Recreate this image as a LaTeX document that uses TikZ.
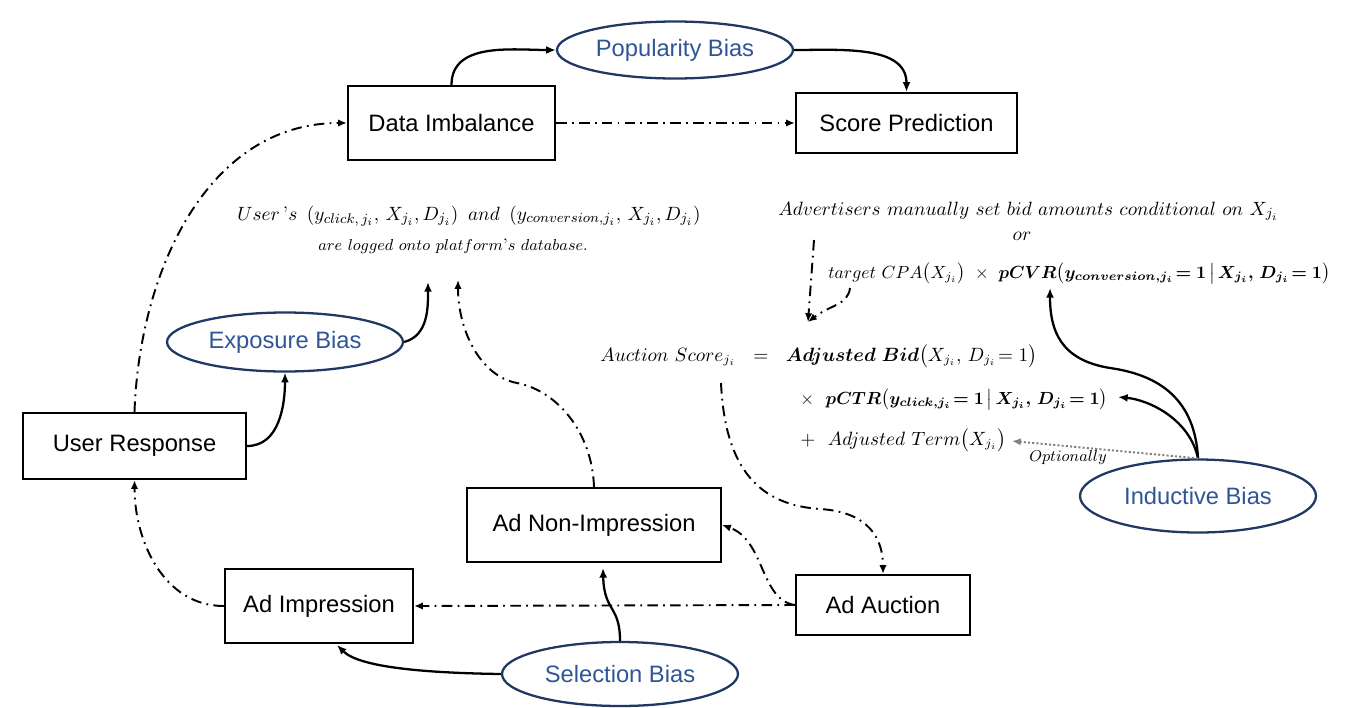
\documentclass[tikz,border=0pt]{standalone}
\usepackage{amsmath}
\usepackage{bm}
\usepackage{fontspec}
\setsansfont{Liberation Sans}
\usetikzlibrary{arrows.meta,shapes.geometric}
\definecolor{biasline}{RGB}{31,56,100}
\definecolor{biastext}{RGB}{47,85,151}
\definecolor{optgray}{RGB}{128,128,128}
\newcommand{\mtxt}{\fontsize{11.2}{13}\selectfont}
\newcommand{\btxt}{\fontsize{10.5}{12}\selectfont}
\newcommand{\ttxt}{\fontsize{10.7}{12}\selectfont}
\newcommand{\ctxt}{\fontsize{10}{12}\selectfont}
\newcommand{\stxt}{\fontsize{9.5}{11}\selectfont}
\begin{document}
\begin{tikzpicture}[x=0.02cm,y=-0.02cm,
  box/.style={draw, line width=1.3pt, inner sep=0pt, font=\sffamily\fontsize{13.5}{16}\selectfont},
  bias/.style={ellipse, draw=biasline, line width=1.3pt, text=biastext, inner sep=0pt, minimum width=4.72cm, font=\sffamily\fontsize{13.5}{16}\selectfont},
  solidarrow/.style={line width=1.3pt, -{Latex[length=5.5pt,width=4.5pt]}},
  dasharrow/.style={line width=1.1pt, dash pattern=on 6pt off 3pt on 1pt off 3pt, -{Latex[length=5pt,width=4.2pt]}},
  dotarrow/.style={line width=1.1pt, optgray, dash pattern=on 1.2pt off 1.2pt, -{Latex[length=5pt,width=4.2pt]}},
  mathlabel/.style={inner sep=0pt, font=\mtxt},
  boldlabel/.style={inner sep=0pt, font=\btxt},
]
\useasboundingbox (0,0) rectangle (1352,707);

% boxes
\node[box, minimum width=4.14cm, minimum height=1.48cm] (di) at (451.5,123) {Data Imbalance};
\node[box, minimum width=4.42cm, minimum height=1.2cm] (sp) at (906.5,123) {Score Prediction};
\node[box, minimum width=4.46cm, minimum height=1.32cm] (ur) at (134.5,446) {User Response};
\node[box, minimum width=5.08cm, minimum height=1.48cm] (ani) at (594,525) {Ad Non-Impression};
\node[box, minimum width=3.76cm, minimum height=1.48cm] (ai) at (319,606) {Ad Impression};
\node[box, minimum width=3.48cm, minimum height=1.2cm] (aa) at (883,605) {Ad Auction};

% bias ellipses
\node[bias, minimum height=1.14cm] (pb) at (675,50) {Popularity Bias};
\node[bias, minimum height=1.18cm] (eb) at (285,342) {Exposure Bias};
\node[bias, minimum height=1.28cm] (sb) at (620,674) {Selection Bias};
\node[bias, minimum height=1.46cm] (ib) at (1198,496) {Inductive Bias};

% texts
\node[mathlabel, anchor=base west] (logA) at (237,220) {$User\,\text{'}s\ \left(y_{click,\,j_i},\,X_{j_i},D_{j_i}\right)\ and\ \left(y_{conversion,j_i},\,X_{j_i},D_{j_i}\right)$};
\node[mathlabel, font=\stxt, anchor=base] (logB) at (453,250) {$are\ logged\ onto\ platform\text{'}s\ database.$};
\node[mathlabel, anchor=base west] (adv) at (778,215) {$Advertisers\ manually\ set\ bid\ amounts\ conditional\ on\ X_{j_i}$};
\node[mathlabel, anchor=base] (orw) at (1022,240) {$or$};
\node[boldlabel, font=\ctxt, anchor=base west] (cpa) at (828,278) {$target\ CPA\bigl(X_{j_i}\bigr)\ \times\ \bm{pCVR}\bigl(\bm{y_{conversion,j_i}\!=1}\,\big|\,\bm{X_{j_i},\,D_{j_i}\!=1}\bigr)$};
\node[boldlabel, anchor=base west] (auc) at (600,361) {$Auction\ Score_{j_i}\ \ =\ \ \bm{Adjusted\ Bid}\bigl(X_{j_i},\,D_{j_i}\!=1\bigr)$};
\node[boldlabel, font=\ctxt, anchor=base west] (ctr) at (800,404) {$\times\ \ \bm{pCTR}\bigl(\bm{y_{click,j_i}\!=1}\,\big|\,\bm{X_{j_i},\,D_{j_i}\!=1}\bigr)$};
\node[boldlabel, font=\ttxt, anchor=base west] (term) at (800,445) {$+\ \ Adjusted\ Term\bigl(X_{j_i}\bigr)$};
\node[mathlabel, font=\stxt, anchor=base] (opt) at (1068,461) {$Optionally$};

% free-end coordinates
\coordinate (expoTip) at (428,282);
\coordinate (nonimpTip) at (458,280);
\coordinate (aucStart) at (721,383);
\coordinate (cvrTip) at (1050,288);
\coordinate (ctrTip) at (1118,397);
\coordinate (termTip) at (1012,441);
\coordinate (bidTop) at (814,240);
\coordinate (bidTip) at (808,322);
\coordinate (cpaStart) at (850,288);
\coordinate (aiTip) at (337,645);
\coordinate (aniTip) at (603,568);

% connectors
\draw[solidarrow] (di.north) to[out=90,in=180] (pb.west);
\draw[solidarrow] (pb.east) to[out=0,in=90] (sp.north);
\draw[dasharrow] (di.east) -- (sp.west);
\draw[dasharrow] (ur.north) to[out=88,in=180] (di.west);
\draw[solidarrow] (ur.east) to[out=0,in=-90] (eb.south);
\draw[solidarrow] (eb.east) to[out=15,in=-90] (expoTip);
\draw[dasharrow] (ani.north) .. controls (592,430) and (555,390) .. (517,383) .. controls (480,376) and (458,330) .. (nonimpTip);
\draw[dasharrow] (aucStart) .. controls (725,470) and (760,505) .. (820,509) .. controls (870,512) and (883,540) .. (aa.north);
\draw[dasharrow] (aa.west) -- (ai.east);
\draw[dasharrow] (aa.west) .. controls (760,600) and (765,540) .. (ani.east);
\draw[dasharrow] (ai.west) to[out=180,in=-90] (ur.south);
\draw[solidarrow] (sb.west) .. controls (430,673) and (360,668) .. (aiTip);
\draw[solidarrow] (sb.north) .. controls (620,605) and (604,612) .. (aniTip);
\draw[solidarrow] (ib.north) .. controls (1195,400) and (1160,375) .. (1110,368) .. controls (1060,360) and (1050,330) .. (cvrTip);
\draw[solidarrow] (ib.north) .. controls (1190,420) and (1150,400) .. (ctrTip);
\draw[dotarrow] (ib.north) -- (termTip);
\draw[dasharrow] (bidTop) -- (bidTip);
\draw[dasharrow] (cpaStart) .. controls (848,305) and (830,305) .. (bidTip);
\end{tikzpicture}
\end{document}
